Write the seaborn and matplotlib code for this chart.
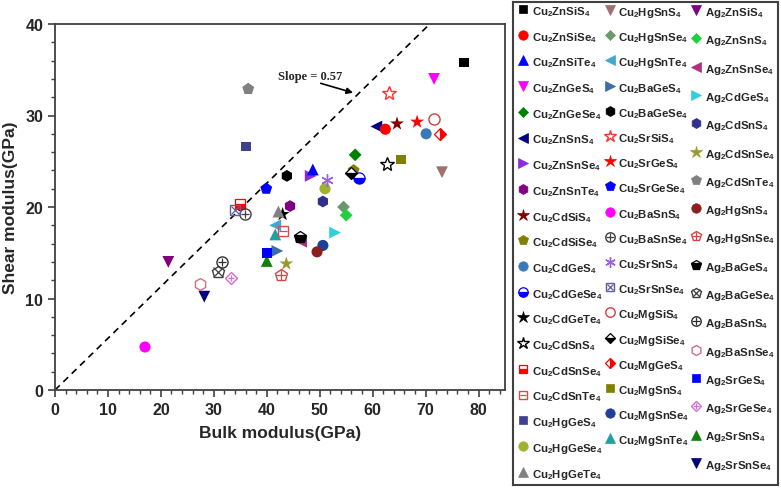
import re
import matplotlib
matplotlib.use("Agg")
from matplotlib import pyplot as plt
from matplotlib.ticker import MultipleLocator
import numpy as np
import pandas as pd
import seaborn as sns

# compounds in legend order (3 legend columns: 19 / 18 / 17)
names = ["Cu2ZnSiS4", "Cu2ZnSiSe4", "Cu2ZnSiTe4", "Cu2ZnGeS4", "Cu2ZnGeSe4", "Cu2ZnSnS4", "Cu2ZnSnSe4",
         "Cu2ZnSnTe4", "Cu2CdSiS4", "Cu2CdSiSe4", "Cu2CdGeS4", "Cu2CdGeSe4", "Cu2CdGeTe4", "Cu2CdSnS4",
         "Cu2CdSnSe4", "Cu2CdSnTe4", "Cu2HgGeS4", "Cu2HgGeSe4", "Cu2HgGeTe4",
         "Cu2HgSnS4", "Cu2HgSnSe4", "Cu2HgSnTe4", "Cu2BaGeS4", "Cu2BaGeSe4", "Cu2SrSiS4", "Cu2SrGeS4",
         "Cu2SrGeSe4", "Cu2BaSnS4", "Cu2BaSnSe4", "Cu2SrSnS4", "Cu2SrSnSe4", "Cu2MgSiS4", "Cu2MgSiSe4",
         "Cu2MgGeS4", "Cu2MgSnS4", "Cu2MgSnSe4", "Cu2MgSnTe4",
         "Ag2ZnSiS4", "Ag2ZnSnS4", "Ag2ZnSnSe4", "Ag2CdGeS4", "Ag2CdSnS4", "Ag2CdSnSe4", "Ag2CdSnTe4",
         "Ag2HgSnS4", "Ag2HgSnSe4", "Ag2BaGeS4", "Ag2BaGeSe4", "Ag2BaSnS4", "Ag2BaSnSe4", "Ag2SrGeS4",
         "Ag2SrGeSe4", "Ag2SrSnS4", "Ag2SrSnSe4"]
column_sizes = [19, 18, 17]

bulk = [77.3, 62.4, 48.7, 71.6, 56.7, 60.7, 48.3, 44.4, 64.6, 56.4, 70.1, 57.5, 43.0, 62.7, 35.0, 43.0, 36.1, 51.0, 42.2,
        73.1, 54.5, 41.6, 42.0, 43.8, 63.1, 68.4, 39.9, 17.0, 35.9, 51.4, 34.0, 71.5, 55.9, 72.8, 65.3, 50.6, 41.6,
        21.4, 55.0, 46.5, 52.9, 50.6, 43.7, 36.5, 49.5, 42.7, 46.2, 30.8, 31.5, 27.4, 40.1, 33.3, 40.0, 28.2]
shear = [35.8, 28.5, 24.1, 34.0, 25.7, 28.8, 23.4, 20.1, 29.1, 24.0, 28.0, 23.2, 19.2, 24.7, 20.3, 17.4, 26.6, 22.0, 19.5,
         23.8, 20.0, 18.0, 15.2, 23.4, 32.5, 29.3, 22.0, 4.7, 19.2, 23.0, 19.7, 29.6, 23.7, 28.0, 25.2, 15.8, 17.0,
         14.0, 19.1, 16.2, 17.2, 20.6, 13.8, 32.9, 15.1, 12.6, 16.7, 12.9, 14.0, 11.6, 15.0, 12.2, 14.1, 10.2]

colors = ["#000000", "#ff0000", "#0000ff", "#ff00ff", "#008000", "#000080", "#8a2be2", "#800080", "#800000", "#808000",
          "#3a78b8", "#0000ff", "#000000", "#000000", "#ff0000", "#e04848", "#404090", "#a0b030", "#808080",
          "#a07070", "#6a9a6a", "#40a8d0", "#3a6ea5", "#000000", "#ff3030", "#ff0000", "#0000ff", "#ff00ff", "#404040",
          "#9a60e0", "#6060a0", "#d04040", "#000000", "#ff0000", "#808000", "#1f3f9a", "#20a0a0",
          "#800080", "#20d040", "#b03080", "#30d0e0", "#303090", "#9a9a30", "#808080", "#8b2020", "#d04848",
          "#000000", "#404040", "#303030", "#d07080", "#0000ff", "#d070d0", "#108010", "#000080"]
markers = ["s", "o", "^", "v", "D", "<", ">", "h", "*", "p", "o", "o", "*", "*", "s", "s", "s", "o", "^",
           "v", "D", "<", ">", "h", "*", "*", "p", "o", "o", "ast", "s", "o", "D", "D", "s", "o", "^",
           "v", "D", "<", ">", "h", "*", "p", "o", "p", "p", "p", "o", "h", "s", "D", "^", "v"]
fills = ["full"] * 11 + ["bottom", "full", "none", "bottom", "none", "full", "full", "full",
         "full", "full", "full", "full", "full", "none", "full", "full", "full", "none", "none", "none", "none",
         "bottom", "right", "full", "full", "full",
         "full", "full", "full", "full", "full", "full", "full", "full", "none", "bottom", "none", "none", "none",
         "full", "none", "full", "full"]
inner = [""] * 15 + ["_", "", "", "",
         "", "", "", "", "", "", "", "", "", "+", "", "x", "", "", "", "", "", "",
         "", "", "", "", "", "", "", "", "+", "", "x", "+", "", "", "+", "", ""]

slope = 0.565

df = pd.DataFrame(dict(name=names, bulk=bulk, shear=shear, color=colors,
                       marker=markers, fill=fills, inner=inner))

sns.set_style("white")
plt.rcParams['font.family'] = ['Liberation Sans', 'DejaVu Sans']
plt.rcParams['font.weight'] = 'bold'

msize = {'s': 7, 'o': 8, '^': 8.5, 'v': 8.5, '<': 8.5, '>': 8.5, 'D': 6.5,
         'h': 8.5, 'p': 9, '*': 10.5, 'ast': 9}


def mk(m):
    return (6, 2, 0) if m == 'ast' else m


def draw_mark(ax, x, y, row, scale=1.0):
    ms = msize[row.marker] * scale
    c = row.color
    if row.fill == 'full':
        ax.plot(x, y, ls='none', marker=mk(row.marker), ms=ms, color=c, mec=c, mew=0.5, zorder=3)
    elif row.fill == 'none':
        ax.plot(x, y, ls='none', marker=mk(row.marker), ms=ms, color=c, mfc='none', mec=c, mew=1.0, zorder=3)
    else:
        ax.plot(x, y, ls='none', marker=mk(row.marker), ms=ms, fillstyle=row.fill,
                mfc=c, mfcalt='white', mec=c, mew=0.9, zorder=3)
    if row.inner:
        ax.plot(x, y, ls='none', marker=row.inner, ms=ms * 0.75, mec=c, mew=0.9, zorder=4)


fig = plt.figure(figsize=(7.81, 4.89), dpi=100)
ax = fig.add_axes([55 / 781, 1 - 391 / 489, 450 / 781, 366 / 489])

# dashed reference line
xs = np.array([0, 40 / slope])
ax.plot(xs, slope * xs, ls=(0, (4, 3)), color='black', lw=1.2, zorder=1)

# plain filled markers through seaborn, one group per marker shape
full = df[(df['fill'] == 'full') & (df['marker'] != 'ast')]
for m, grp in full.groupby('marker'):
    sns.scatterplot(data=grp, x='bulk', y='shear', hue='name',
                    palette=dict(zip(grp['name'], grp['color'])),
                    marker=m, s=msize[m] ** 2, linewidth=0, legend=False, ax=ax, zorder=3)
# open / half filled / composite markers
for _, row in df[~df.index.isin(full.index)].iterrows():
    draw_mark(ax, row.bulk, row.shear, row)

ax.text(42.1, 34.3, 'Slope = 0.57', family=['Liberation Serif'], fontsize=9,
        fontweight='bold', va='center', ha='left')
ax.annotate('', xy=(56.8, 32.4), xytext=(49.7, 33.6),
            arrowprops=dict(arrowstyle='-|>', color='black', lw=1.2, mutation_scale=9))

ax.set_xlim(0, 85)
ax.set_ylim(0, 40)
ax.xaxis.set_major_locator(MultipleLocator(10))
ax.yaxis.set_major_locator(MultipleLocator(10))
ax.xaxis.set_minor_locator(MultipleLocator(2))
ax.yaxis.set_minor_locator(MultipleLocator(2))
ax.tick_params(which='both', direction='out', bottom=True, left=True, top=False, right=False,
               color='#404040', labelsize=11.5)
ax.tick_params(which='major', length=5, width=1.2)
ax.tick_params(which='minor', length=3, width=1.0)
for lab in ax.get_xticklabels() + ax.get_yticklabels():
    lab.set_fontweight('bold')
for s in ax.spines.values():
    s.set_color('#404040')
    s.set_linewidth(1.3)
ax.set_xlabel('Bulk modulus(GPa)', fontsize=12.5, fontweight='bold', labelpad=6)
ax.set_ylabel('Shear modulus(GPa)', fontsize=12.5, fontweight='bold', labelpad=5)

# legend box, three columns
axl = fig.add_axes([513 / 781, 3 / 489, 265 / 781, 483 / 489])
axl.set_xlim(0, 265)
axl.set_ylim(483, 0)
axl.set_xticks([])
axl.set_yticks([])
for s in axl.spines.values():
    s.set_color('#404040')
    s.set_linewidth(1.5)

col_x = [(10, 19), (97, 105), (183, 192)]
col_y0 = [7, 8, 8]
col_pitch = [25.7, 25.2, 28.3]
start = 0
for c, n in enumerate(column_sizes):
    for k in range(n):
        row = df.iloc[start + k]
        y = col_y0[c] + k * col_pitch[c]
        draw_mark(axl, col_x[c][0], y, row, scale=0.85)
        label = re.sub(r'(\d)', r'$_\\mathregular{\1}$', row['name'])
        axl.text(col_x[c][1], y + 2, label, fontsize=8.2, fontweight='bold', va='center', ha='left')
    start += n

fig.savefig('out.png', dpi=100)
